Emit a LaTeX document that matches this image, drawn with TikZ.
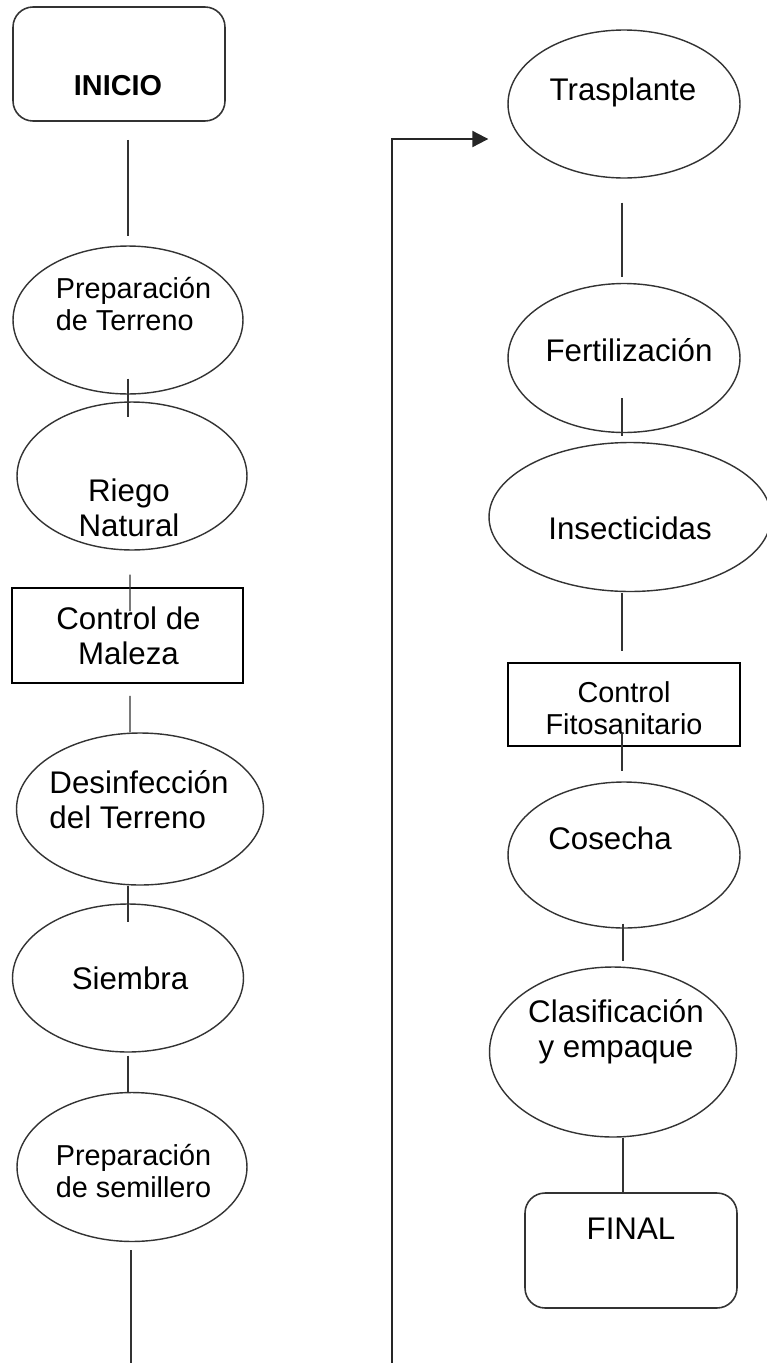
\documentclass[tikz,border=0pt]{standalone}
\usepackage{fontspec}
\setmainfont{Liberation Sans}
\usetikzlibrary{arrows.meta}
\usetikzlibrary{calc}
\usetikzlibrary{shapes.geometric}

\tikzset{
  oval/.style={ellipse, draw=black!80, line width=0.8pt, inner sep=0pt},
  caja/.style={rectangle, draw=black, line width=1pt, inner sep=0pt},
  redondo/.style={rectangle, rounded corners=0.4cm, draw=black!80, line width=0.9pt, inner sep=0pt},
  grande/.style={font=\fontsize{17.8}{20}\selectfont, inner sep=0pt, align=center},
  chica/.style={font=\fontsize{16.4}{18.2}\selectfont, inner sep=0pt, align=center},
  linea/.style={draw=black!80, line width=0.7pt},
  retorno/.style={draw=black!85, line width=1.2pt, -{Triangle[length=0.32cm, width=0.32cm]}},
}

\begin{document}
\begin{tikzpicture}[x=0.02cm, y=-0.02cm]
	\useasboundingbox (0,0) rectangle (767,1363);
	
	%left column
	\node[redondo, minimum width=4.24cm, minimum height=2.28cm] (inicio) at (119,64) {};
	\node[chica, font=\fontsize{16.4}{18.2}\selectfont\bfseries] (inicioT) at ($(inicio)+(-1,22)$) {INICIO};
	
	\node[oval, minimum width=4.6cm, minimum height=2.96cm] (prepter) at (128,320) {};
	\node[chica, align=left] (prepterT) at ($(prepter)+(5.5,-16)$) {Preparación\\de Terreno};
	
	\node[oval, minimum width=4.6cm, minimum height=2.96cm] (riego) at (132,476) {};
	\node[grande] (riegoT) at ($(riego)+(-3,32)$) {Riego\\Natural};
	
	\node[caja, minimum width=4.62cm, minimum height=1.9cm] (maleza) at (127.5,635.5) {};
	\node[grande] (malezaT) at ($(maleza)+(1,0)$) {Control de\\Maleza};
	
	\node[oval, minimum width=4.94cm, minimum height=3.04cm] (desinf) at (140,809) {};
	\node[grande, align=left] (desinfT) at ($(desinf)+(-1,-9)$) {Desinfección\\del Terreno};
	
	\node[oval, minimum width=4.62cm, minimum height=2.96cm] (siembra) at (128,978) {};
	\node[grande] (siembraT) at ($(siembra)+(2,0)$) {Siembra};
	
	\node[oval, minimum width=4.6cm, minimum height=2.98cm] (prepsem) at (132,1167) {};
	\node[chica] (prepsemT) at ($(prepsem)+(1.5,4)$) {Preparación\\de semillero};
	
	%right column
	\node[oval, minimum width=4.64cm, minimum height=2.96cm] (tras) at (624,104) {};
	\node[grande] (trasT) at ($(tras)+(-1,-12)$) {Trasplante};
	
	\node[oval, minimum width=4.64cm, minimum height=2.98cm] (fert) at (624,358) {};
	\node[grande] (fertT) at ($(fert)+(5,-8)$) {Fertilización};
	
	\node[oval, minimum width=5.64cm, minimum height=2.98cm] (insect) at (630,517) {};
	\node[grande] (insectT) at ($(insect)+(0,11)$) {Insecticidas};
	
	\node[caja, minimum width=4.64cm, minimum height=1.66cm] (fito) at (624,704.5) {};
	\node[chica] (fitoT) at ($(fito)+(0,4)$) {Control\\Fitosanitario};
	
	\node[oval, minimum width=4.64cm, minimum height=2.92cm] (cosecha) at (624,855) {};
	\node[grande] (cosechaT) at ($(cosecha)+(-14,-17)$) {Cosecha};
	
	\node[oval, minimum width=4.94cm, minimum height=3.4cm] (clasif) at (613,1052) {};
	\node[grande] (clasifT) at ($(clasif)+(3,-20)$) {Clasificación\\y empaque};
	
	\node[redondo, minimum width=4.24cm, minimum height=2.3cm] (final) at (631,1250.5) {};
	\node[grande] (finalT) at ($(final)+(0,-22)$) {FINAL};
	
	%connectors left
	\draw[linea] ($(inicio.south -| prepter.north)+(0,18)$) -- ($(prepter.north)+(0,-9)$);
	\draw[linea] ($(prepter.south)+(0,-16)$) -- ($(prepter.south |- riego.north)+(0,16)$);
	\draw[linea] ($(riego.south)+(-2,24)$) -- ($(maleza.north)+(2.5,24)$);
	\draw[linea] ($(maleza.south)+(2.5,12)$) -- ($(desinf.north)+(-10,0)$);
	\draw[linea] ($(desinf.south)+(-12,0)$) -- ($(siembra.north)+(0,19)$);
	\draw[linea] ($(siembra.south)+(0,3)$) -- ($(prepsem.north)+(-4,0)$);
	\coordinate (salida) at (131,1363);
	\draw[linea] ($(prepsem.south)+(-1,8)$) -- (salida);
	
	%connectors right
	\draw[linea] ($(tras.south)+(-2,24)$) -- ($(fert.north)+(-2,-6)$);
	\draw[linea] ($(fert.south)+(-2,-35)$) -- ($(insect.north)+(-8,-6)$);
	\draw[linea] ($(insect.south)+(-8,1)$) -- ($(fito.north)+(-2,-11)$);
	\draw[linea] ($(fito.south)+(-2,-14)$) -- ($(cosecha.north)+(-2,-10)$);
	\draw[linea] ($(cosecha.south)+(-1,-5)$) -- ($(clasif.north)+(10,-5)$);
	\draw[linea] ($(clasif.south)+(10,0)$) -- ($(final.north)+(-8,2)$);
	
	%return line
	\coordinate (entrada) at (392,1363);
	\draw[retorno] (entrada) |- ($(tras.west)+(-19,35)$);
\end{tikzpicture}
\end{document}
